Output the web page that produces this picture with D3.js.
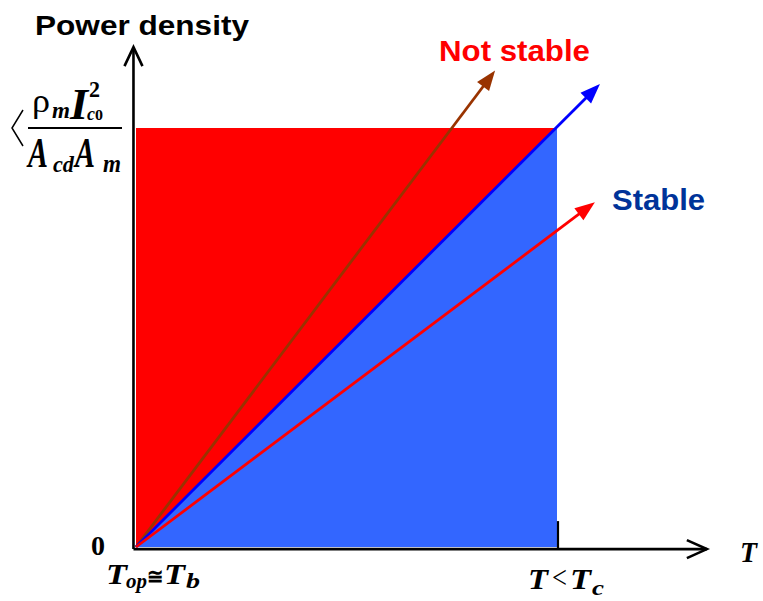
<!DOCTYPE html>
<html>
<head>
<meta charset="utf-8">
<script src="https://cdn.jsdelivr.net/npm/d3@7"></script>
<style>
  html, body { margin: 0; padding: 0; background: #fff; }
  svg { display: block; }
</style>
</head>
<body>
<svg id="chart" width="763" height="601"></svg>
<script>
// Normalised temperature (0 = T_op, 1 = T < T_c) and power density (1 = limit)
const regionT = [0, 1];
const regionP = [0, 1];
// Heating rays leaving the origin: end point in (T, P) units
const rayNames = ["unstable", "boundary", "stable"];
const rayEndT = [0.853, 1.102, 1.090];
const rayEndP = [1.137, 1.105, 0.823];
// Axis extents
const axisMaxT = 1.356;
const axisMaxP = 1.193;

const rayColor = { unstable: "#993300", boundary: "#0000FF", stable: "#FF0000" };

const svg = d3.select("#chart");
const x = d3.scaleLinear().domain([0, 1]).range([136, 557]);
const y = d3.scaleLinear().domain([0, 1]).range([547, 128]);

// Unstable region (whole rectangle), then stable triangle below the diagonal
svg.append("rect")
  .attr("x", x(regionT[0])).attr("y", y(regionP[1]))
  .attr("width", x(regionT[1]) - x(regionT[0]))
  .attr("height", y(regionP[0]) - y(regionP[1]))
  .attr("fill", "#FF0000");

svg.append("path")
  .attr("d", d3.line()([
    [x(regionT[0]), y(regionP[0])],
    [x(regionT[1]), y(regionP[1])],
    [x(regionT[1]), y(regionP[0])]
  ]))
  .attr("fill", "#3366FF");

// Axes with open arrow heads
const ax = svg.append("g").attr("stroke", "#000").attr("stroke-width", 2.6).attr("fill", "none");
const x0 = x(-0.006), y0 = y(-0.005);
ax.append("line").attr("x1", x0).attr("y1", y0).attr("x2", x(axisMaxT)).attr("y2", y0);
ax.append("line").attr("x1", x0).attr("y1", y0).attr("x2", x0).attr("y2", y(axisMaxP));
ax.append("path").attr("d", d3.line()([
  [x(axisMaxT) - 20, y0 - 9], [x(axisMaxT), y0], [x(axisMaxT) - 20, y0 + 9]
]));
ax.append("path").attr("d", d3.line()([
  [x0 - 9, y(axisMaxP) + 19], [x0, y(axisMaxP)], [x0 + 9, y(axisMaxP) + 19]
]));
// Tick at T_c
ax.append("line").attr("x1", x(1) + 1).attr("x2", x(1) + 1)
  .attr("y1", y0).attr("y2", y0 - 28).attr("stroke-width", 2.2);

// Rays with filled arrow heads
rayNames.forEach((name, i) => {
  const x1 = x(0), y1 = y(0);
  const x2 = x(rayEndT[i]), y2 = y(rayEndP[i]);
  const ang = Math.atan2(y2 - y1, x2 - x1);
  const headL = 20, headW = 7.5;
  const bx = x2 - headL * Math.cos(ang), by = y2 - headL * Math.sin(ang);
  svg.append("line")
    .attr("x1", x1).attr("y1", y1).attr("x2", bx + 2 * Math.cos(ang)).attr("y2", by + 2 * Math.sin(ang))
    .attr("stroke", rayColor[name]).attr("stroke-width", 2.8);
  svg.append("path")
    .attr("d", d3.line()([
      [x2, y2],
      [bx - headW * Math.sin(ang), by + headW * Math.cos(ang)],
      [bx + headW * Math.sin(ang), by - headW * Math.cos(ang)]
    ]) + "Z")
    .attr("fill", rayColor[name]);
});

// Text labels
const sans = "'Liberation Sans', Arial, sans-serif";
const serif = "'Liberation Serif', 'Times New Roman', serif";

svg.append("text").attr("x", 35).attr("y", 35)
  .attr("font-family", sans).attr("font-weight", "bold").attr("font-size", 28)
  .attr("textLength", 214).attr("lengthAdjust", "spacingAndGlyphs")
  .text("Power density");

svg.append("text").attr("x", 439).attr("y", 61)
  .attr("font-family", sans).attr("font-weight", "bold").attr("font-size", 30)
  .attr("textLength", 151).attr("lengthAdjust", "spacingAndGlyphs")
  .attr("fill", "#FF0000").text("Not stable");

svg.append("text").attr("x", 612).attr("y", 210)
  .attr("font-family", sans).attr("font-weight", "bold").attr("font-size", 30)
  .attr("textLength", 93).attr("lengthAdjust", "spacingAndGlyphs")
  .attr("fill", "#003399").text("Stable");

// A math expression: one <text>, one positioned <tspan> per glyph run
const mathText = (parts) => {
  const t = svg.append("text")
    .attr("font-family", serif).attr("font-weight", "bold").attr("font-style", "italic");
  parts.forEach(([str, gx, gy, size, opts = {}]) => {
    const s = t.append("tspan").attr("x", gx).attr("y", gy).attr("font-size", size).text(str);
    if (opts.upright) s.attr("font-style", "normal");
    if (opts.weight) s.attr("font-weight", opts.weight);
    if (opts.len) s.attr("textLength", opts.len).attr("lengthAdjust", "spacingAndGlyphs");
  });
  return t;
};

mathText([["0", 91, 555, 28, { upright: true }]]);

// T_op ≅ T_b
mathText([
  ["T", 106, 584, 29, { len: 21 }],
  ["op", 126, 588, 21, { len: 21 }],
  ["≅", 147, 584, 22, { upright: true, len: 16 }],
  ["T", 164, 584, 29, { len: 21 }],
  ["b", 186, 588, 21, { len: 14 }]
]);

// T < T_c
mathText([
  ["T", 528, 589, 29, { len: 20 }],
  ["<", 552, 588, 32, { upright: true, weight: "normal", len: 15 }],
  ["T", 570, 589, 29, { len: 21 }],
  ["c", 592, 595, 21, { len: 12 }]
]);

mathText([["T", 740, 562, 29, { len: 17 }]]);

// Limit on the power axis: ρ_m I_c0^2 / (A_cd A_m)
mathText([
  ["ρ", 32, 112, 34, { upright: true, weight: "normal", len: 18 }],
  ["m", 52, 118, 24, { len: 18 }],
  ["I", 70, 119, 45, { len: 18 }],
  ["2", 89, 97, 24, { upright: true, len: 11 }],
  ["c", 87, 120, 18, { len: 8 }],
  ["0", 95, 120, 15, { upright: true, len: 8 }],
  ["A", 28, 167, 42, { len: 20 }],
  ["cd", 53, 172, 24, { len: 21 }],
  ["A", 75, 167, 42, { len: 20 }],
  ["m", 103, 172, 25, { len: 18 }]
]);

svg.append("line").attr("x1", 28).attr("x2", 122).attr("y1", 128).attr("y2", 128)
  .attr("stroke", "#000").attr("stroke-width", 2);

// Angle bracket in front of the fraction
svg.append("path").attr("d", "M23,110 L12,128 L23,146")
  .attr("fill", "none").attr("stroke", "#000").attr("stroke-width", 1.5);
</script>
</body>
</html>
